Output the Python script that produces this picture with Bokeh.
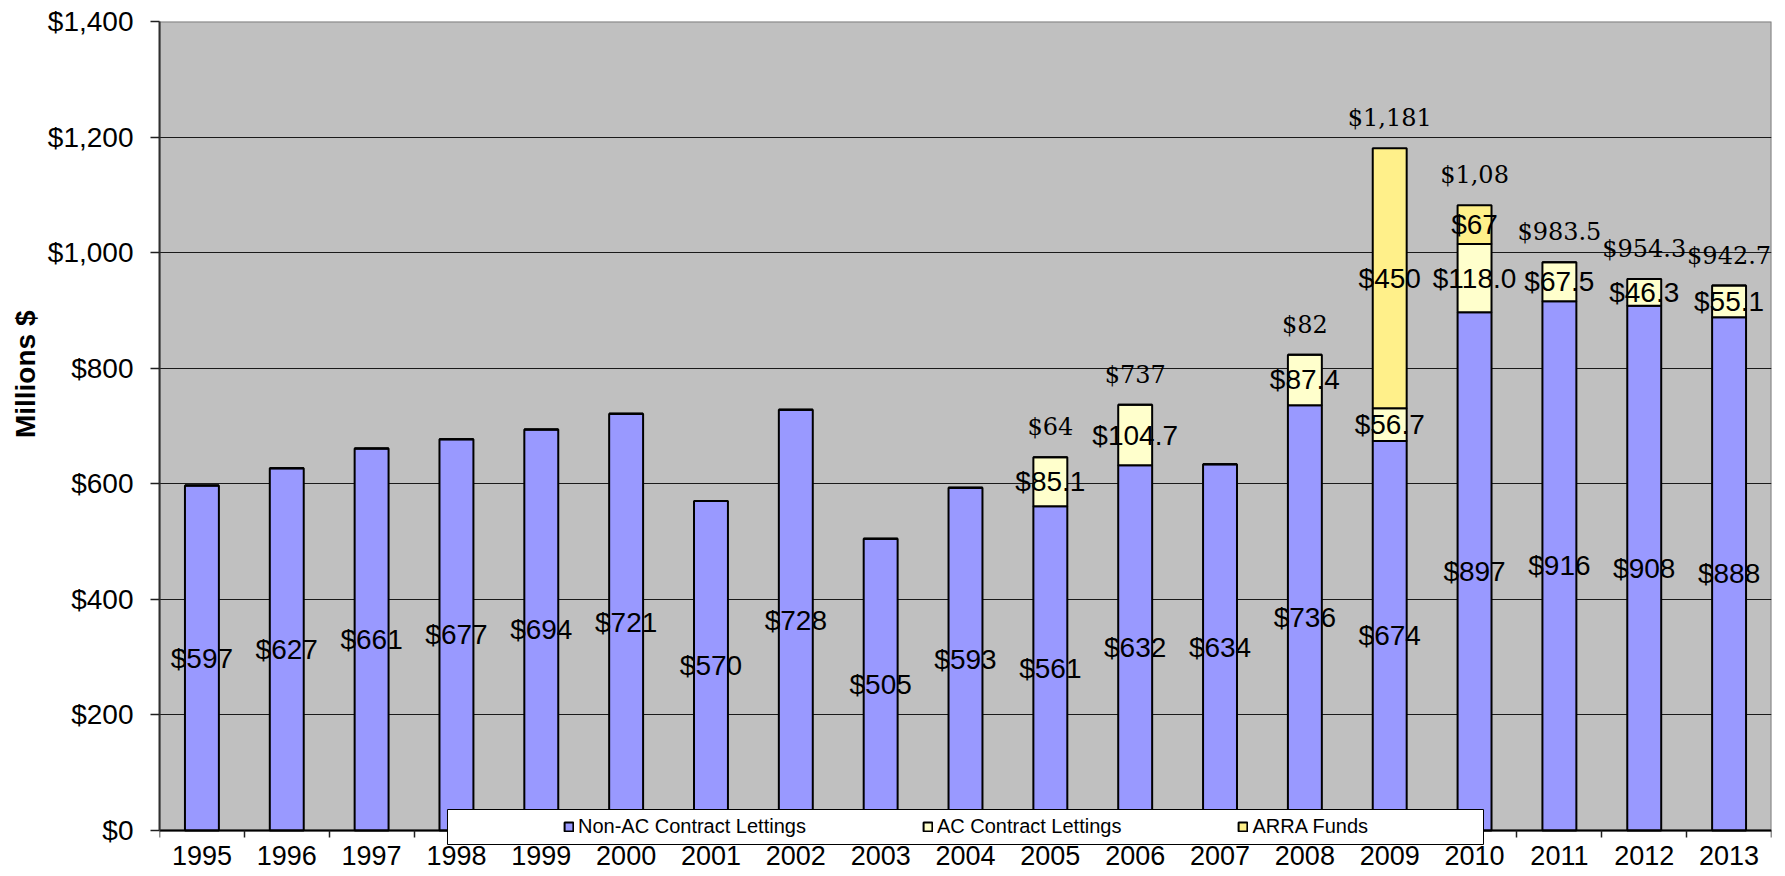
from bokeh.plotting import figure
from bokeh.models import (ColumnDataSource, Range1d, FixedTicker, NumeralTickFormatter,
                          Legend, LegendItem, BoxAnnotation, Title)
from bokeh.core.properties import value
from bokeh.embed import file_html
from bokeh.resources import INLINE

# ---------------- data ----------------
years = ["1995", "1996", "1997", "1998", "1999", "2000", "2001", "2002", "2003", "2004",
         "2005", "2006", "2007", "2008", "2009", "2010", "2011", "2012", "2013"]
non_ac = [597, 627, 661, 677, 694, 721, 570, 728, 505, 593,
          561, 632, 634, 736, 674, 897, 916, 908, 888]
ac = [0, 0, 0, 0, 0, 0, 0, 0, 0, 0,
      85.1, 104.7, 0, 87.4, 56.7, 118.0, 67.5, 46.3, 55.1]
arra = [0, 0, 0, 0, 0, 0, 0, 0, 0, 0,
        0, 0, 0, 0, 450, 67, 0, 0, 0]
total_labels = ["", "", "", "", "", "", "", "", "", "",
                "$64", "$737", "", "$82", "$1,181", "$1,08", "$983.5", "$954.3", "$942.7"]
series_names = ["Non-AC Contract Lettings", "AC Contract Lettings", "ARRA Funds"]
series_colors = ["#9999FF", "#FFFFCC", "#FFF08A"]
y_ticks = [0, 200, 400, 600, 800, 1000, 1200, 1400]

n = len(years)
xs = [i + 0.5 for i in range(n)]
totals = [a + b + c for a, b, c in zip(non_ac, ac, arra)]
zeros = [0] * n

# ---------------- layout constants (pixels) ----------------
FIG_W, FIG_H = 1785, 876
BORDER_L, BORDER_R, BORDER_T = 159, 14, 21
PLOT_PX = 809            # pixel height of the 0..1400 value area
frame_h = FIG_H - BORDER_T
y_top = y_ticks[-1]
y_bottom = -(frame_h - PLOT_PX) * y_top / PLOT_PX   # extra room below zero for year labels / legend

FONT = "Liberation Sans"

src = ColumnDataSource(dict(x=xs, non_ac=non_ac, ac=ac, arra=arra))

p = figure(width=FIG_W, height=FIG_H, x_range=Range1d(0, n), y_range=Range1d(y_bottom, y_top),
           output_backend="svg", toolbar_location=None,
           min_border_left=BORDER_L, min_border_right=BORDER_R, min_border_top=BORDER_T,
           min_border_bottom=0,
           background_fill_color="white", border_fill_color="white",
           outline_line_color=None)

# grey plot area (0..1400) with grey border
p.quad(left=0, right=n, bottom=y_ticks[0], top=y_top, fill_color="#C0C0C0",
       line_color="#808080", line_width=2, level="image")

renderers = p.vbar_stack(["non_ac", "ac", "arra"], x="x", width=0.4, source=src,
                         fill_color=series_colors, line_color="black", line_width=2)

# segment labels
def seg_source(vals, bases, fmt):
    sx, sy, st = [], [], []
    for x, v, b in zip(xs, vals, bases):
        if v > 0:
            sx.append(x)
            sy.append(b + v / 2.0)
            st.append(fmt.format(v))
    return ColumnDataSource(dict(x=sx, y=sy, t=st))

base_arra = [a + b for a, b in zip(non_ac, ac)]
for vals, bases, fmt in [(non_ac, zeros, "${:.0f}"), (ac, non_ac, "${:.1f}"), (arra, base_arra, "${:.0f}")]:
    s = seg_source(vals, bases, fmt)
    p.text(x="x", y="y", text="t", source=s, text_align="center", text_baseline="middle",
           text_font=value(FONT), text_font_size=value("28px"), text_color="black")

# total labels
tsrc = ColumnDataSource(dict(x=xs, y=totals, t=total_labels))
p.text(x="x", y="y", text="t", source=tsrc, text_align="center", text_baseline="middle",
       y_offset=-30, text_font=value("DejaVu Serif"), text_font_size=value("24px"),
       text_color="black")

# x axis at zero, ticks between categories
p.xaxis.fixed_location = 0
p.xaxis.ticker = FixedTicker(ticks=[], minor_ticks=list(range(n + 1)))
p.xaxis.minor_tick_out = 7
p.xaxis.minor_tick_in = 0
p.xaxis.minor_tick_line_color = "#202020"
p.xaxis.minor_tick_line_width = 1.5
p.xaxis.major_tick_out = 0
p.xaxis.major_tick_in = 0
p.xaxis.major_label_standoff = 0
p.xaxis.major_label_text_font_size = "0px"
p.xaxis.axis_line_color = "black"
p.xaxis.axis_line_width = 2
p.xgrid.visible = False

# year labels under the axis
ysrc = ColumnDataSource(dict(x=xs, y=zeros, t=years))
p.text(x="x", y="y", text="t", source=ysrc, y_offset=15, text_align="center",
       text_baseline="top", text_font=value(FONT), text_font_size=value("27px"),
       text_color="black")

# y axis
p.yaxis.bounds = (y_ticks[0], y_top)
p.yaxis.ticker = FixedTicker(ticks=y_ticks, minor_ticks=[])
p.yaxis.formatter = NumeralTickFormatter(format="$0,0")
p.yaxis.major_tick_out = 9
p.yaxis.major_tick_in = 0
p.yaxis.major_tick_line_color = "#202020"
p.yaxis.major_tick_line_width = 1.5
p.yaxis.minor_tick_out = 0
p.yaxis.minor_tick_in = 0
p.yaxis.major_label_standoff = 17
p.yaxis.major_label_text_font = FONT
p.yaxis.major_label_text_font_size = "28px"
p.yaxis.major_label_text_color = "black"
p.yaxis.axis_line_color = "#303030"
p.yaxis.axis_line_width = 2

p.ygrid.ticker = FixedTicker(ticks=y_ticks[1:-1])
p.ygrid.grid_line_color = "#1a1a1a"
p.ygrid.grid_line_width = 1

# y axis title
p.add_layout(Title(text="Millions $", align="right", offset=289, standoff=8,
                   text_font=FONT, text_font_size="28px", text_font_style="bold",
                   text_color="black"), "left")

# legend box + legend
p.add_layout(BoxAnnotation(left=3.3945, right=15.6055, top=36.34, bottom=-24.23,
                           fill_color="white", fill_alpha=1.0,
                           line_color="black", line_width=1, line_alpha=1.0))
legend = Legend(items=[LegendItem(label=nm, renderers=[r]) for nm, r in zip(series_names, renderers)],
                orientation="horizontal", location=(398, 32), padding=6, spacing=116,
                glyph_width=11, glyph_height=11, label_standoff=4, margin=0,
                label_text_font=FONT, label_text_font_size="20px", label_text_color="black",
                background_fill_alpha=0, border_line_alpha=0)
p.add_layout(legend)

open("out.html", "w").write(file_html(p, INLINE))
